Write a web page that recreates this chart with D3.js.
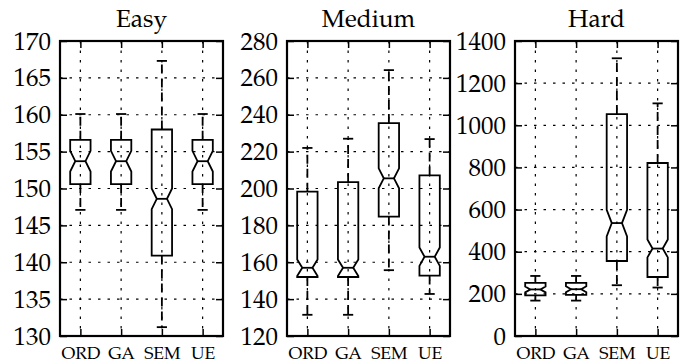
<!DOCTYPE html>
<html>
<head>
<meta charset="utf-8">
<script src="https://cdn.jsdelivr.net/npm/d3@7"></script>
<style>
  body { margin: 0; background: #fff; }
</style>
</head>
<body>
<svg id="chart" width="687" height="364"></svg>
<script>
const categories = ["ORD", "GA", "SEM", "UE"];
const panelTitles = ["Easy", "Medium", "Hard"];

// one row per category: [whisker low, q1, notch low, median, notch high, q3, whisker high]
const easyBoxes = [
  [147.1, 150.6, 152.3, 153.7, 155.1, 156.6, 160.1],
  [147.1, 150.6, 152.3, 153.7, 155.1, 156.6, 160.1],
  [131.2, 140.9, 147.2, 148.6, 150.0, 158.0, 167.3],
  [147.1, 150.6, 152.3, 153.7, 155.1, 156.6, 160.1]
];
const mediumBoxes = [
  [131.5, 152.0, 152.5, 157.0, 161.5, 198.3, 222.0],
  [131.5, 152.0, 152.5, 157.0, 161.5, 203.5, 227.0],
  [155.7, 184.8, 200.1, 205.5, 210.9, 235.5, 264.2],
  [142.8, 152.8, 158.0, 163.0, 168.0, 207.1, 226.8]
];
const hardBoxes = [
  [168, 193, 207, 221, 235, 252, 285],
  [168, 195, 208, 222, 236, 252, 285],
  [241, 356, 473, 536, 599, 1053, 1318],
  [230, 280, 373, 415, 458, 821, 1104]
];

const easyTicks = [130, 135, 140, 145, 150, 155, 160, 165, 170];
const mediumTicks = [120, 140, 160, 180, 200, 220, 240, 260, 280];
const hardTicks = [0, 200, 400, 600, 800, 1000, 1200, 1400];

const panels = [
  {title: panelTitles[0], boxes: easyBoxes, ticks: easyTicks, left: 60},
  {title: panelTitles[1], boxes: mediumBoxes, ticks: mediumTicks, left: 287},
  {title: panelTitles[2], boxes: hardBoxes, ticks: hardTicks, left: 515}
];

const plotTop = 41, plotH = 295, plotW = 163;
const serif = "'TeX Gyre Pagella', 'Liberation Serif', serif";
const svg = d3.select("#chart").style("font-family", serif);

panels.forEach(p => drawPanel(p));

function drawPanel(p) {
  const g = svg.append("g").attr("transform", "translate(" + p.left + "," + plotTop + ")");

  const x = d3.scalePoint().domain(categories).range([0, plotW]).padding(0.5);
  const y = d3.scaleLinear()
    .domain([p.ticks[0], p.ticks[p.ticks.length - 1]])
    .range([plotH, 0]);
  const boxW = x.step() * 0.5;

  // dotted grid
  g.append("g").selectAll("line")
    .data(p.ticks)
    .enter().append("line")
    .attr("x1", 0).attr("x2", plotW)
    .attr("y1", d => y(d)).attr("y2", d => y(d))
    .attr("stroke", "#000").attr("stroke-width", 1.2)
    .attr("stroke-dasharray", "2.5,7");
  g.append("g").selectAll("line")
    .data(categories)
    .enter().append("line")
    .attr("x1", d => x(d)).attr("x2", d => x(d))
    .attr("y1", 0).attr("y2", plotH)
    .attr("stroke", "#000").attr("stroke-width", 1.2)
    .attr("stroke-dasharray", "2.5,7");

  const data = p.boxes.map((b, i) => ({key: categories[i], s: b}));
  const bx = g.append("g").selectAll("g")
    .data(data)
    .enter().append("g");

  // whiskers (dashed), drawn from the box outward
  [[1, 0], [5, 6]].forEach(([from, to]) => {
    bx.append("line")
      .attr("x1", d => x(d.key)).attr("x2", d => x(d.key))
      .attr("y1", d => y(d.s[from])).attr("y2", d => y(d.s[to]))
      .attr("stroke", "#000").attr("stroke-width", 1.8)
      .attr("stroke-dasharray", "9,5");
  });

  // caps
  [0, 6].forEach(k => {
    bx.append("line")
      .attr("x1", d => x(d.key) - boxW * 0.25).attr("x2", d => x(d.key) + boxW * 0.25)
      .attr("y1", d => y(d.s[k])).attr("y2", d => y(d.s[k]))
      .attr("stroke", "#000").attr("stroke-width", 1.8);
  });

  // notched box
  bx.append("path")
    .attr("d", d => {
      const c = x(d.key), l = c - boxW / 2, r = c + boxW / 2;
      const nl = c - boxW / 4, nr = c + boxW / 4;
      const s = d.s;
      const pts = [
        [l, y(s[1])], [l, y(s[2])], [nl, y(s[3])], [l, y(s[4])], [l, y(s[5])],
        [r, y(s[5])], [r, y(s[4])], [nr, y(s[3])], [r, y(s[2])], [r, y(s[1])]
      ];
      return "M" + pts.map(q => q[0] + "," + q[1]).join("L") + "Z";
    })
    .attr("fill", "none").attr("stroke", "#000").attr("stroke-width", 1.8);

  // median
  bx.append("line")
    .attr("x1", d => x(d.key) - boxW / 4).attr("x2", d => x(d.key) + boxW / 4)
    .attr("y1", d => y(d.s[3])).attr("y2", d => y(d.s[3]))
    .attr("stroke", "#000").attr("stroke-width", 1.8);

  // axes with inward ticks on all sides
  g.append("g")
    .call(d3.axisLeft(y).tickValues(p.ticks).tickFormat(d3.format("d")).tickSize(-7).tickPadding(9))
    .selectAll("text").style("font-size", "25px");
  g.append("g").attr("transform", "translate(" + plotW + ",0)")
    .call(d3.axisRight(y).tickValues(p.ticks).tickSize(-7).tickFormat(""));
  g.append("g").attr("transform", "translate(0," + plotH + ")")
    .call(d3.axisBottom(x).tickSize(-7).tickPadding(11))
    .selectAll("text").style("font-size", "17.5px");
  g.append("g").call(d3.axisTop(x).tickSize(-7).tickFormat(""));

  g.selectAll(".domain").remove();
  g.selectAll(".tick line").attr("stroke", "#000").attr("stroke-width", 1.5);

  // frame
  g.append("rect")
    .attr("x", 0).attr("y", 0).attr("width", plotW).attr("height", plotH)
    .attr("fill", "none").attr("stroke", "#000").attr("stroke-width", 2.2);

  g.append("text")
    .attr("x", plotW / 2).attr("y", -14)
    .attr("text-anchor", "middle")
    .style("font-size", "24.5px")
    .text(p.title);

  g.selectAll("text").style("font-family", serif).attr("fill", "#000");
}
</script>
</body>
</html>
